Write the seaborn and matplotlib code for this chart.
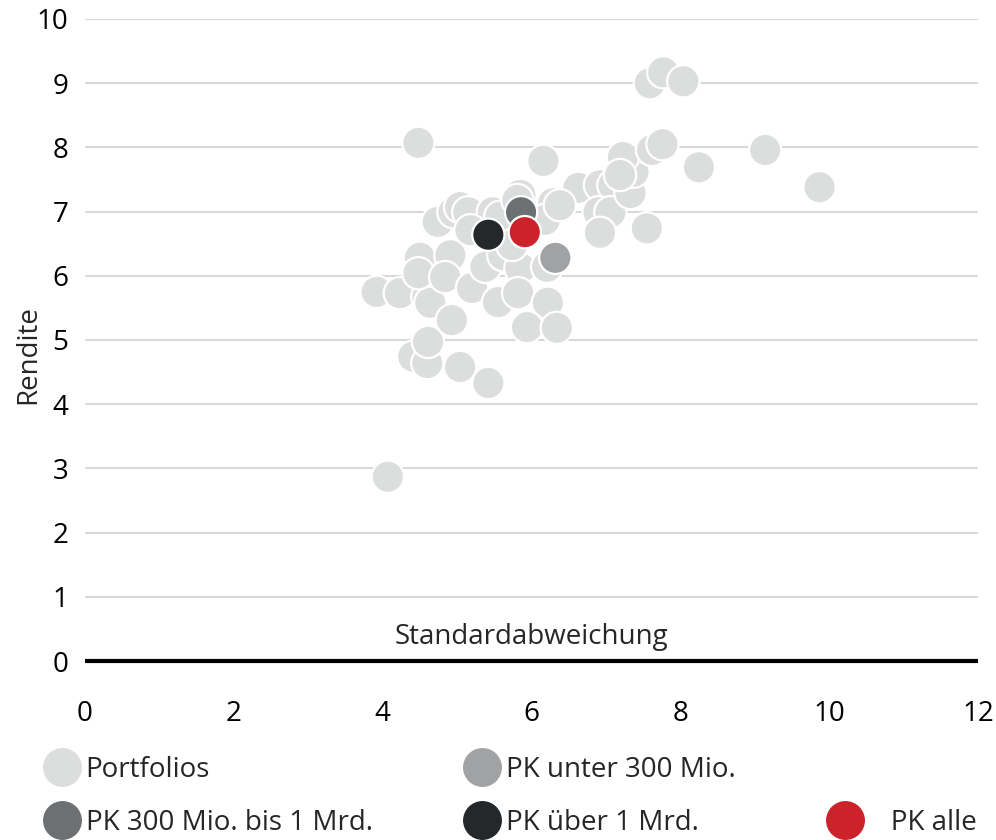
import matplotlib
matplotlib.use("Agg")
import matplotlib.pyplot as plt
import seaborn as sns
import pandas as pd
from matplotlib.lines import Line2D

sns.set_theme(style="white")
plt.rcParams['font.family'] = ['Open Sans', 'DejaVu Sans']

# ---- data ----
portfolio_x = [4.48, 4.07, 3.92, 4.23, 4.60, 4.64, 4.50, 4.48, 4.41, 4.60, 4.61, 4.93,
               5.04, 5.42, 4.74, 4.95, 5.04, 5.15, 4.91, 4.84, 5.20, 5.38, 5.48, 5.58,
               5.62, 5.85, 6.21, 5.55, 5.82, 6.22, 5.94, 6.34, 6.16, 5.85, 5.81, 6.29,
               6.18, 6.63, 6.92, 7.10, 6.90, 7.06, 6.92, 7.33, 7.37, 7.23, 7.62, 7.76,
               7.55, 8.25, 7.59, 7.77, 8.04, 9.14, 9.87, 6.38, 5.18, 5.74, 7.19]
portfolio_y = [8.07, 2.87, 5.75, 5.73, 5.67, 5.58, 6.28, 6.04, 4.74, 4.64, 4.97, 5.31,
               4.58, 4.33, 6.84, 6.99, 7.07, 6.99, 6.32, 5.98, 5.81, 6.14, 6.99, 6.92,
               6.32, 6.12, 6.14, 5.59, 5.73, 5.58, 5.20, 5.19, 7.79, 7.26, 7.18, 7.13,
               6.87, 7.37, 7.41, 7.41, 6.99, 6.99, 6.67, 7.29, 7.62, 7.85, 7.96, 8.05,
               6.74, 7.69, 9.00, 9.17, 9.03, 7.96, 7.38, 7.10, 6.71, 6.48, 7.57]

groups = ["Portfolios", "PK unter 300 Mio.", "PK 300 Mio. bis 1 Mrd.", "PK über 1 Mrd.", "PK alle"]
special_x = [6.32, 5.86, 5.42, 5.91]
special_y = [6.28, 6.99, 6.64, 6.68]

colors = {"Portfolios": "#dcdddd", "PK unter 300 Mio.": "#a0a2a4",
          "PK 300 Mio. bis 1 Mrd.": "#6d7073", "PK über 1 Mrd.": "#25282b",
          "PK alle": "#cc2229"}

x_ticks = [0, 2, 4, 6, 8, 10, 12]
y_ticks = [0, 1, 2, 3, 4, 5, 6, 7, 8, 9, 10]

df = pd.DataFrame({
    "x": portfolio_x + special_x,
    "y": portfolio_y + special_y,
    "g": ["Portfolios"] * len(portfolio_x) + groups[1:],
})

# ---- figure ----
fig = plt.figure(figsize=(9.96, 8.4), dpi=100)
ax = fig.add_axes([85 / 996, (840 - 690) / 840, (978 - 85) / 996, (690 - 19) / 840])

y0 = -(690 - 661) / 64.2
ax.set_xlim(0, 12)
ax.set_ylim(y0, 10)

for yv in y_ticks[1:]:
    ax.axhline(yv, color="#d9d9d9", lw=1.5, zorder=0)
ax.axhline(0, color="black", lw=3, zorder=1)

sns.scatterplot(data=df, x="x", y="y", hue="g", palette=colors, hue_order=groups,
                s=540, edgecolor="white", linewidth=1.6, legend=False, ax=ax, zorder=3,
                clip_on=False)

for sp in ax.spines.values():
    sp.set_visible(False)
ax.set_xticks(x_ticks)
ax.set_yticks(y_ticks)
ax.tick_params(axis="both", length=0, labelsize=20, colors="black")
ax.tick_params(axis="x", pad=7)
ax.tick_params(axis="y", pad=12)
ax.set_xlabel("")
ax.set_ylabel("Rendite", fontsize=20, labelpad=-4)
ax.text(6, 0.15, "Standardabweichung", ha="center", va="bottom", fontsize=20)

handles = []
labels = []
order = ["Portfolios", "PK 300 Mio. bis 1 Mrd.", "PK unter 300 Mio.", "PK über 1 Mrd.", None, "PK alle"]
for g in order:
    if g is None:
        handles.append(Line2D([], [], linestyle="none", marker=None))
        labels.append(" ")
    else:
        handles.append(Line2D([], [], linestyle="none", marker="o", markersize=27,
                              markerfacecolor=colors[g], markeredgecolor=colors[g]))
        labels.append("   " + g if g == "PK alle" else g)
fig.legend(handles, labels, ncol=3, loc="upper left", bbox_to_anchor=(30 / 996, 1 - 745 / 840),
           frameon=False, fontsize=20, handletextpad=0.1, columnspacing=3.2,
           labelspacing=0.9, borderaxespad=0, handlelength=1.5)

fig.savefig("out.png", dpi=100)
